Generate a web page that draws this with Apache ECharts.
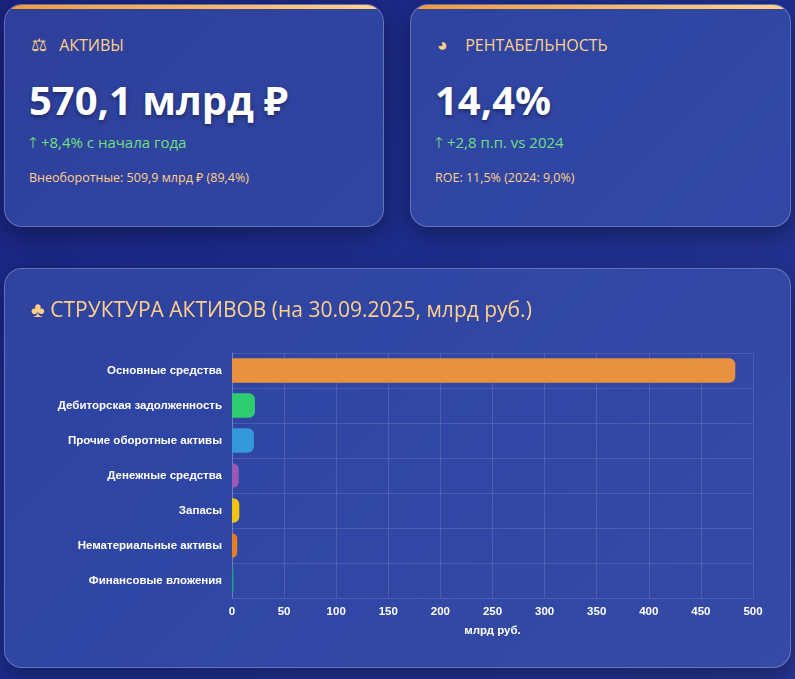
<!doctype html>
<html lang="ru">
<head>
<meta charset="utf-8"/>
<title>Структура активов</title>
<script src="https://cdn.jsdelivr.net/npm/echarts@6/dist/echarts.min.js"></script>
<style>
  body { margin:0; width:795px; height:679px; overflow:hidden;
    background: linear-gradient(135deg,#1a237e 0%,#1e2f8f 50%,#283593 100%);
    font-family: "Open Sans","Noto Sans",sans-serif; }
  .card { position:absolute; background:rgba(70,100,190,0.45); border:1px solid rgba(255,255,255,0.25);
    border-radius:18px; box-sizing:border-box; overflow:hidden; box-shadow:0 8px 24px rgba(0,0,0,0.35); }
  .kpi::before { content:""; position:absolute; left:0; right:0; top:0; height:4px;
    background:linear-gradient(90deg,#f39c32,#ffd28a); }
  .kpi .h { position:absolute; left:26px; top:27px; color:#ffd08a; font-size:16px; }
  .kpi .h span.ic { display:inline-block; width:24px; font-size:18px; }
  .kpi .v { position:absolute; left:24px; top:67px; color:#fff; font-size:40px; font-weight:bold; text-shadow:0 2px 4px rgba(0,0,0,.4); }
  .kpi .d { position:absolute; left:24px; top:127px; color:#6ee07f; font-size:15px; }
  .kpi .n { position:absolute; left:24px; top:164px; color:#ffd08a; font-size:12.5px; }
  #title { position:absolute; left:26px; top:26px; color:#ffd08a; font-size:21px; }
  #chart { position:absolute; left:0; top:0; width:786px; height:399px; }
</style>
</head>
<body>
<div class="card kpi" style="left:4px;top:4px;width:380px;height:223px;">
  <div class="h"><span class="ic">⚖</span> АКТИВЫ</div>
  <div class="v">570,1 млрд ₽</div>
  <div class="d">🡑 +8,4% с начала года</div>
  <div class="n">Внеоборотные: 509,9 млрд ₽ (89,4%)</div>
</div>
<div class="card kpi" style="left:410px;top:4px;width:381px;height:223px;">
  <div class="h"><span class="ic">◕</span> РЕНТАБЕЛЬНОСТЬ</div>
  <div class="v">14,4%</div>
  <div class="d">🡑 +2,8 п.п. vs 2024</div>
  <div class="n">ROE: 11,5% (2024: 9,0%)</div>
</div>
<div class="card" style="left:4px;top:268px;width:787px;height:400px;">
  <div id="chart"></div>
  <div id="title">♣ СТРУКТУРА АКТИВОВ (на 30.09.2025, млрд руб.)</div>
</div>
<script>
  const categories = ["Основные средства","Дебиторская задолженность","Прочие оборотные активы",
    "Денежные средства","Запасы","Нематериальные активы","Финансовые вложения"];
  const values = [483, 22, 21, 6.5, 7, 5, 1.5];
  const colors = ["#e8913f","#2ecc71","#3498db","#9b59b6","#f1c40f","#e67e22","#16a085"];

  let chart = echarts.init(document.getElementById("chart"));
  chart.setOption({
    grid: { left: 227, right: 38, top: 84, bottom: 70 },
    xAxis: {
      type: "value", min: 0, max: 500, interval: 50,
      name: "млрд руб.", nameLocation: "middle", nameGap: 27,
      nameTextStyle: { color: "#fff", fontSize: 11.5, fontWeight: "bold", fontFamily: "Arial" },
      axisLabel: { color: "#fff", fontSize: 11.5, fontWeight: "bold", fontFamily: "Arial" },
      axisLine: { show: false }, axisTick: { show: false },
      splitLine: { lineStyle: { color: "rgba(255,255,255,0.12)" } }
    },
    yAxis: {
      type: "category", data: categories, inverse: true,
      axisLabel: { color: "#fff", fontSize: 11.5, fontWeight: "bold", fontFamily: "Arial", margin: 10 },
      axisLine: { lineStyle: { color: "rgba(255,255,255,0.2)" } }, axisTick: { show: false },
      splitLine: { show: true, lineStyle: { color: "rgba(255,255,255,0.12)" } }
    },
    series: [{
      type: "bar", data: values.map((v, i) => ({ value: v, itemStyle: { color: colors[i] } })),
      barWidth: "70%",
      itemStyle: { borderRadius: [0, 6, 6, 0] }
    }]
  });
</script>
</body>
</html>
